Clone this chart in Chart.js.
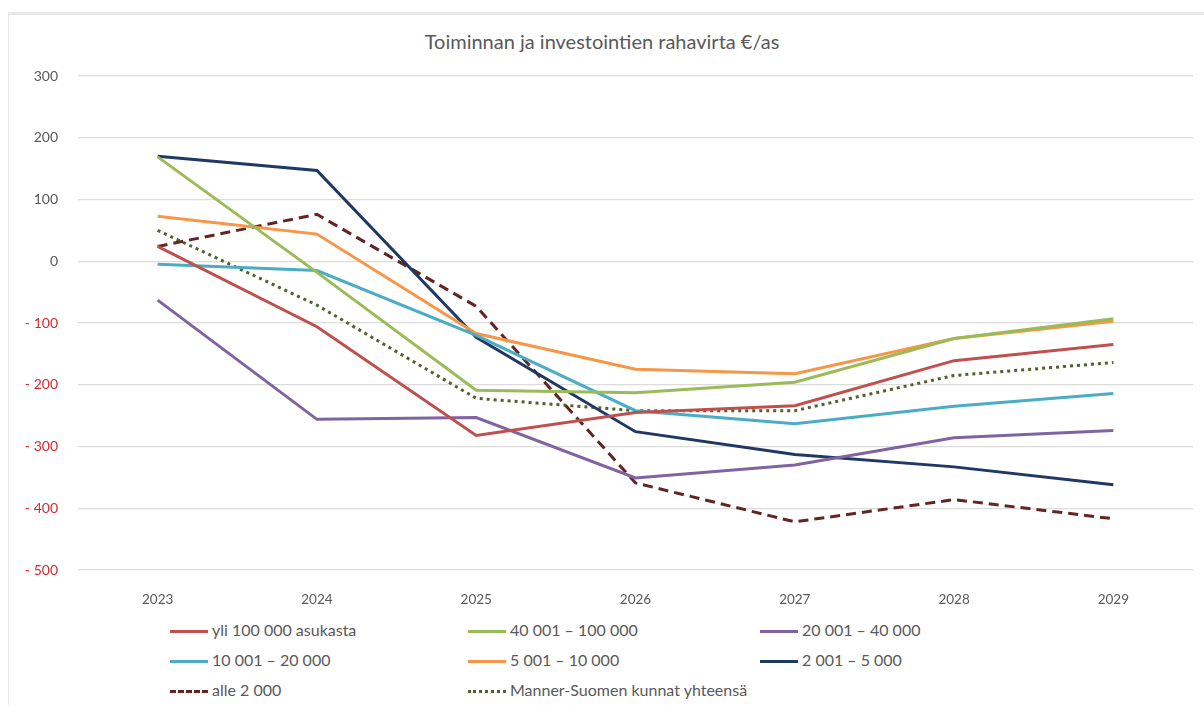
<!DOCTYPE html>
<html>
<head>
<meta charset="utf-8">
<script src="https://cdn.jsdelivr.net/npm/chart.js@4"></script>
<style>
  body { margin: 0; background: #fff; font-family: Lato, "Open Sans", sans-serif; }
  #frame { position: absolute; left: 8px; top: 12px; width: 1300px; height: 800px;
           border-top: 3px solid #e8e8e8; border-left: 1px solid #e8e8e8; }
  #wrap { position: absolute; left: 0; top: 0; width: 1204px; height: 615px; }
  #title { position: absolute; left: 0; width: 1204px; top: 29px; text-align: center;
           font-size: 20px; color: #595959; }
  .leg { position: absolute; font-size: 16px; color: #595959; white-space: nowrap; height: 20px; line-height: 20px; }
  .leg .s { display: inline-block; width: 38px; height: 0; vertical-align: middle; margin-right: 4px; }
</style>
</head>
<body>
<div id="frame"></div>
<div id="title">Toiminnan ja investointien rahavirta €/as</div>
<div id="wrap"><canvas id="chart" width="1204" height="615"></canvas></div>
<div id="legend"></div>
<script>
// Vuodet (x-akseli)
const years = ['2023', '2024', '2025', '2026', '2027', '2028', '2029'];

// Kuntakokoryhmät, arvot €/asukas (luettu kuvasta)
const yli100000 = [24, -106, -282, -245, -234, -161, -135];
const k40001_100000 = [169, -18, -209, -213, -196, -125, -93];
const k20001_40000 = [-63, -256, -253, -351, -330, -286, -274];
const k10001_20000 = [-5, -15, -120, -242, -263, -235, -214];
const k5001_10000 = [73, 44, -117, -175, -182, -125, -97];
const k2001_5000 = [170, 147, -123, -276, -313, -333, -362];
const alle2000 = [24, 76, -73, -359, -422, -386, -417];
const mannerSuomi = [50, -71, -222, -242, -242, -185, -164];

// y-akselin asteikko
const yMin = -500;
const yMax = 300;
const yStep = 100;

const series = [
    { label: 'yli 100 000 asukasta', data: yli100000, color: '#c0504d', dash: [] },
    { label: '40 001 – 100 000', data: k40001_100000, color: '#9bbb59', dash: [] },
    { label: '20 001 – 40 000', data: k20001_40000, color: '#8064a2', dash: [] },
    { label: '10 001 – 20 000', data: k10001_20000, color: '#4bacc6', dash: [] },
    { label: '5 001 – 10 000', data: k5001_10000, color: '#f79646', dash: [] },
    { label: '2 001 – 5 000', data: k2001_5000, color: '#1f3864', dash: [] },
    { label: 'alle 2 000', data: alle2000, color: '#632523', dash: [10, 6] },
    { label: 'Manner-Suomen kunnat yhteensä', data: mannerSuomi, color: '#4f6228', dash: [3, 4] },
];

// Legenda kolmessa sarakkeessa kuten alkuperäisessä
const legCols = [170, 468, 760];
const legRows = [620, 650, 680];
const legend = document.getElementById('legend');
series.forEach((s, i) => {
    const d = document.createElement('div');
    d.className = 'leg';
    d.style.left = legCols[i % 3] + 'px';
    d.style.top = legRows[Math.floor(i / 3)] + 'px';
    let style = 'solid';
    if (s.dash.length) style = s.dash[0] > 5 ? 'dashed' : 'dotted';
    d.innerHTML = '<span class="s" style="border-top:3px ' + style + ' ' + s.color + '"></span>' + s.label;
    legend.appendChild(d);
});

const ctx = document.getElementById('chart').getContext('2d');
new Chart(ctx, {
    type: 'line',
    data: {
        labels: years,
        datasets: series.map((s) => ({
            label: s.label,
            data: s.data,
            borderColor: s.color,
            backgroundColor: s.color,
            borderWidth: 3,
            borderDash: s.dash,
            pointRadius: 0,
            tension: 0,
            fill: false,
        })),
    },
    options: {
        responsive: false,
        animation: false,
        layout: { padding: { left: 10, right: 11, top: 76, bottom: 5 } },
        plugins: { legend: { display: false }, title: { display: false }, tooltip: { enabled: false } },
        scales: {
            x: {
                offset: true,
                grid: { display: false },
                border: { display: false },
                ticks: { color: '#595959', font: { family: 'Lato', size: 13.5 }, padding: 14, maxRotation: 0 },
                afterFit: (scale) => { scale.height = 40; },
            },
            y: {
                min: yMin,
                max: yMax,
                grid: { color: '#dcdcdc', lineWidth: 1.3, drawTicks: false },
                border: { display: false },
                ticks: {
                    stepSize: yStep,
                    padding: 20,
                    font: { family: 'Lato', size: 14 },
                    color: (c) => (c.tick && c.tick.value < 0 ? '#d42a2f' : '#595959'),
                    callback: (v) => (v < 0 ? '- ' + Math.abs(v) : String(v)),
                },
                afterFit: (scale) => { scale.width = 68; },
            },
        },
    },
});
</script>
</body>
</html>
